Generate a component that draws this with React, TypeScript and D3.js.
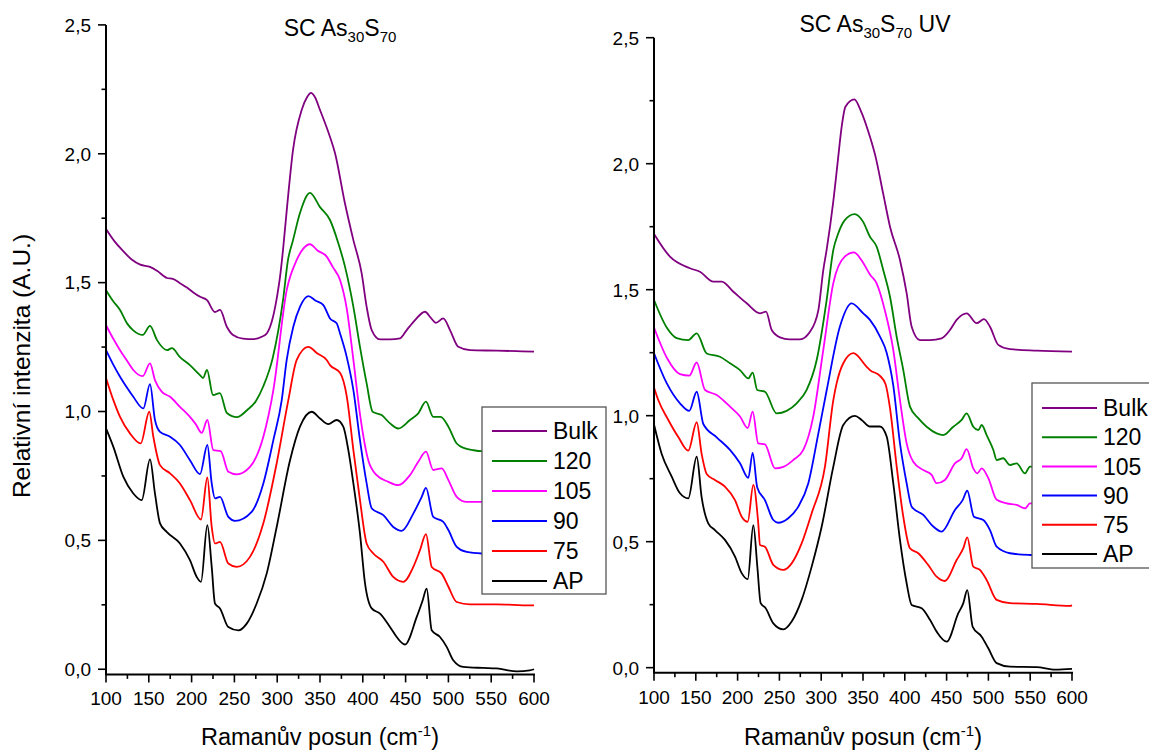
import React from 'react';
import * as d3 from 'd3';

type Pt = [number, number];

const SERIES_NAMES = ['Bulk', '120', '105', '90', '75', 'AP'];
const SERIES_COLORS = ['#800080', '#008000', '#ff00ff', '#0000ff', '#ff0000', '#000000'];
const X_TICKS = [100, 150, 200, 250, 300, 350, 400, 450, 500, 550, 600];
const Y_TICKS = [0, 0.5, 1.0, 1.5, 2.0, 2.5];

// ---------- Left panel: SC As30S70 ----------
const LEFT_BULK: Pt[] = [[100,1.708],[110,1.66],[118.7,1.627],[130,1.59],[140,1.57],[151.4,1.561],[160,1.545],[171.3,1.518],[178,1.515],[186.4,1.498],[195,1.48],[201.6,1.463],[210,1.445],[218,1.432],[227.3,1.386],[233.2,1.394],[241.3,1.328],[248.4,1.297],[260,1.283],[271.7,1.281],[282,1.29],[288,1.304],[295,1.366],[300,1.45],[303.3,1.522],[306.8,1.627],[311.5,1.793],[318.5,2.015],[328.6,2.17],[335,2.22],[339.5,2.236],[344,2.22],[350,2.17],[361.7,2.065],[367.5,2.003],[379,1.81],[389,1.665],[398.7,1.536],[404.5,1.406],[410.4,1.316],[420.1,1.28],[431.8,1.28],[443.5,1.284],[451.3,1.316],[461,1.355],[472.7,1.387],[479,1.365],[485.5,1.344],[494,1.361],[501.9,1.316],[511.6,1.251],[525.2,1.238],[556.4,1.236],[580,1.234],[600,1.232]];
const LEFT_120: Pt[] = [[100,1.471],[108,1.43],[116.4,1.394],[125,1.34],[131.5,1.316],[143,1.297],[151.4,1.332],[159.6,1.277],[171.3,1.238],[177,1.246],[186.4,1.211],[198,1.18],[209.8,1.141],[213.3,1.13],[218,1.161],[225,1.064],[233,1.071],[241.3,0.994],[253,0.978],[264.7,1.005],[275,1.04],[283.4,1.095],[295,1.211],[306.8,1.432],[312.6,1.588],[318.5,1.665],[326.6,1.77],[338.3,1.848],[350,1.793],[361.7,1.743],[371.4,1.653],[379.2,1.562],[389,1.406],[396.7,1.251],[404.5,1.109],[411.5,0.999],[422,0.986],[431.8,0.954],[441.5,0.934],[455.1,0.967],[464.8,0.993],[473.8,1.038],[482.3,0.979],[491,0.979],[500,0.941],[509.7,0.876],[519.4,0.857],[529.1,0.85],[538.9,0.846],[570,0.845],[600,0.84]];
const LEFT_105: Pt[] = [[100,1.335],[108,1.285],[116.4,1.238],[125,1.195],[131.9,1.161],[142.9,1.137],[151.4,1.187],[157.2,1.122],[165.1,1.077],[174.8,1.057],[186.4,1.018],[198.1,0.979],[205,0.95],[211.8,0.917],[218.4,0.967],[225.4,0.85],[234,0.846],[242.9,0.766],[252.7,0.756],[268.2,0.785],[283.8,0.902],[295.5,1.083],[311.1,1.471],[322.8,1.588],[330,1.63],[338.3,1.649],[347,1.625],[357.8,1.601],[365,1.56],[373.4,1.51],[381.2,1.4],[389,1.2],[396.7,0.99],[406.4,0.811],[416.2,0.753],[429.8,0.727],[441.5,0.714],[455.1,0.753],[464.8,0.805],[473.8,0.844],[482.3,0.773],[492.2,0.779],[500,0.734],[509.7,0.669],[521.4,0.649],[538.9,0.649],[570,0.647],[600,0.645]];
const LEFT_90: Pt[] = [[100,1.238],[108,1.185],[116.4,1.135],[125,1.09],[131.9,1.057],[143.6,1.012],[151.4,1.106],[157.2,0.967],[163.1,0.921],[174.8,0.902],[186.4,0.87],[198.1,0.811],[209.8,0.757],[218.4,0.87],[223.5,0.721],[227.3,0.663],[233.2,0.669],[242.9,0.591],[250.7,0.576],[270.2,0.611],[283.8,0.721],[295.5,0.889],[305.3,1.044],[311.1,1.2],[318.8,1.329],[326.6,1.406],[336.3,1.448],[345,1.43],[353.9,1.413],[361.7,1.361],[369.5,1.342],[373.4,1.303],[381.2,1.212],[389,1.083],[396.7,0.889],[404.5,0.721],[410.4,0.624],[424,0.598],[435.6,0.552],[445.4,0.537],[459,0.604],[468.8,0.669],[473.8,0.704],[482.3,0.591],[494,0.572],[500,0.54],[509.7,0.475],[521.4,0.455],[538.9,0.449],[570,0.447],[600,0.445]];
const LEFT_75: Pt[] = [[100,1.13],[108.6,1.044],[116.4,0.979],[128,0.915],[140.5,0.876],[150.6,0.999],[155.3,0.902],[163.1,0.792],[174.8,0.76],[186.4,0.721],[198.1,0.656],[211,0.581],[218.4,0.744],[223.5,0.552],[227.3,0.488],[233.2,0.494],[242.9,0.41],[252.7,0.397],[268.2,0.436],[283.8,0.566],[299.4,0.799],[313,1.044],[322.8,1.2],[336.3,1.251],[347,1.225],[357.8,1.2],[361.7,1.18],[373.4,1.15],[381.2,1.06],[389,0.85],[396.7,0.656],[404.5,0.488],[412.3,0.449],[424,0.417],[435.6,0.358],[447.3,0.339],[459,0.397],[466.8,0.462],[473.8,0.524],[480.5,0.397],[492.2,0.371],[500,0.32],[509.7,0.261],[525.2,0.252],[556,0.252],[595.3,0.248],[600,0.248]];
const LEFT_AP: Pt[] = [[100,0.935],[108.6,0.863],[120.2,0.747],[131.9,0.682],[141.7,0.656],[151.4,0.814],[157.2,0.682],[163.1,0.566],[170.9,0.533],[186.4,0.488],[198.1,0.423],[206,0.358],[211,0.339],[218.4,0.559],[223.5,0.397],[227.3,0.255],[233.2,0.236],[242.9,0.164],[254.6,0.151],[264.4,0.177],[276,0.255],[287.7,0.371],[299.4,0.552],[315,0.811],[326.6,0.941],[340.3,0.999],[350,0.973],[359.7,0.951],[369.5,0.967],[377.2,0.941],[383.1,0.85],[389,0.721],[396.7,0.527],[402.6,0.333],[410.4,0.236],[420.1,0.216],[431.8,0.164],[439.6,0.125],[449.3,0.096],[463,0.203],[470,0.268],[474.6,0.313],[480.5,0.151],[490.2,0.125],[498,0.087],[505.7,0.035],[517.4,0.009],[540,0.005],[556.4,0.003],[580,-0.008],[595,-0.004],[600,0.0]];

// ---------- Right panel: SC As30S70 UV ----------
const RIGHT_BULK: Pt[] = [[100,1.721],[119.1,1.631],[143,1.585],[155,1.571],[171,1.532],[181,1.532],[194.9,1.492],[210.9,1.446],[226.8,1.406],[234,1.413],[240.8,1.34],[250.7,1.311],[262,1.303],[274.6,1.303],[286.6,1.333],[296.6,1.419],[302.5,1.578],[306.5,1.658],[314.7,1.856],[320,2.015],[324.5,2.147],[329,2.226],[339.7,2.255],[347,2.213],[358.3,2.107],[365,2.028],[374.2,1.88],[382.3,1.75],[394.2,1.618],[402.2,1.486],[408.2,1.353],[418.1,1.3],[430.1,1.3],[444.1,1.307],[454,1.34],[462,1.38],[474,1.406],[485.9,1.367],[494.7,1.383],[501.9,1.353],[511.8,1.281],[525.8,1.264],[557.7,1.258],[600,1.254]];
const RIGHT_120: Pt[] = [[100,1.459],[115.2,1.35],[127.1,1.308],[141,1.3],[151.1,1.327],[163,1.247],[178.9,1.234],[190.9,1.208],[202.9,1.181],[212.8,1.148],[218,1.171],[223.5,1.102],[232.7,1.095],[246.7,1.009],[258.7,1.019],[270.6,1.049],[282.6,1.102],[294.6,1.221],[306.5,1.459],[314.5,1.658],[320,1.72],[328,1.775],[340,1.8],[350,1.77],[358.3,1.71],[366.3,1.671],[374.2,1.578],[382.3,1.472],[390.3,1.313],[398.2,1.181],[406.2,1.036],[416.1,0.99],[426.1,0.956],[438.1,0.93],[446,0.923],[458,0.956],[468,0.983],[474,1.009],[481.9,0.956],[487.9,0.943],[492,0.963],[497.9,0.923],[505.9,0.864],[509.9,0.824],[517.8,0.831],[525.8,0.804],[533.8,0.811],[543.8,0.771],[549.7,0.798],[575,0.79],[600,0.785]];
const RIGHT_105: Pt[] = [[100,1.35],[115.2,1.231],[131.1,1.165],[142.2,1.159],[151.1,1.211],[161,1.102],[175,1.082],[190.9,1.036],[202.9,0.997],[212.1,0.951],[218,1.016],[224.7,0.89],[232.7,0.886],[244.7,0.791],[254.7,0.797],[266.6,0.824],[278.6,0.864],[290.5,0.996],[302.5,1.261],[314.5,1.526],[328.4,1.632],[339.2,1.648],[350.3,1.606],[358.3,1.56],[366.3,1.525],[376.3,1.416],[386.2,1.261],[394.2,1.062],[402.2,0.89],[410.1,0.817],[422.1,0.784],[432.1,0.765],[438.1,0.732],[448,0.745],[460,0.811],[468,0.831],[474,0.867],[481.9,0.791],[486.7,0.771],[492,0.791],[499.9,0.752],[509.9,0.666],[521.9,0.652],[533.8,0.646],[543.8,0.632],[549.7,0.652],[575,0.645],[600,0.64]];
const RIGHT_90: Pt[] = [[100,1.248],[115.2,1.129],[131.1,1.049],[142.2,1.019],[151.1,1.095],[159,0.967],[175,0.914],[190.9,0.864],[202.9,0.811],[212.8,0.753],[218,0.852],[223.5,0.715],[232.7,0.665],[242.7,0.586],[248.7,0.575],[260.6,0.593],[272.6,0.639],[284.6,0.732],[296.6,0.93],[306.5,1.1],[322.4,1.354],[336.4,1.446],[350.3,1.406],[358.3,1.38],[370.3,1.314],[378.3,1.25],[386.2,1.12],[394.2,0.891],[402.2,0.732],[408.2,0.639],[422.1,0.606],[434.1,0.56],[444.1,0.54],[460,0.626],[469.2,0.665],[474.7,0.702],[482.7,0.599],[493.9,0.586],[501.9,0.546],[509.9,0.48],[525.8,0.454],[549.7,0.447],[600,0.443]];
const RIGHT_75: Pt[] = [[100,1.112],[105.1,1.062],[117.1,0.983],[129.1,0.915],[141,0.861],[151.1,0.974],[157,0.848],[163,0.769],[172.9,0.745],[184.9,0.718],[196.9,0.665],[204.9,0.599],[212.1,0.579],[218.8,0.725],[224.7,0.573],[226.8,0.487],[232.7,0.48],[242.7,0.408],[254.7,0.388],[264.7,0.414],[276.6,0.493],[288.6,0.613],[304.5,0.798],[314.5,1.062],[318.5,1.129],[326.4,1.208],[338.4,1.248],[354.4,1.194],[358.3,1.181],[370.3,1.158],[377,1.125],[382.3,1.03],[390.3,0.798],[398.2,0.599],[406.2,0.474],[416.1,0.454],[428.1,0.407],[438.1,0.361],[448,0.344],[462,0.427],[470,0.474],[474.7,0.517],[481.9,0.401],[489.9,0.388],[497.9,0.348],[509.9,0.269],[525.8,0.256],[557.7,0.253],[597.5,0.245],[600,0.247]];
const RIGHT_AP: Pt[] = [[100,0.965],[109.2,0.848],[121.2,0.758],[131.1,0.692],[141,0.672],[151.1,0.837],[157,0.676],[164.9,0.573],[172.9,0.546],[184.9,0.507],[196.9,0.441],[204.9,0.375],[212.1,0.351],[218.8,0.566],[223.6,0.401],[227.6,0.256],[233.6,0.236],[242.7,0.176],[254.7,0.152],[264.7,0.183],[276.6,0.269],[288.6,0.401],[300.6,0.56],[314.5,0.798],[326.4,0.963],[340.4,0.999],[348.4,0.983],[358.3,0.957],[370.3,0.957],[378.3,0.917],[386.2,0.732],[394.2,0.507],[402.2,0.335],[408.2,0.249],[420.2,0.236],[430.1,0.19],[438.1,0.143],[450.1,0.103],[464,0.216],[470,0.256],[474.7,0.308],[481.2,0.162],[491.9,0.123],[499.9,0.077],[509.9,0.018],[525.8,0.004],[557.7,0.002],[580,-0.008],[600,-0.005]];

const LEFT_SERIES = [LEFT_BULK, LEFT_120, LEFT_105, LEFT_90, LEFT_75, LEFT_AP];
const RIGHT_SERIES = [RIGHT_BULK, RIGHT_120, RIGHT_105, RIGHT_90, RIGHT_75, RIGHT_AP];

const FONT = '"Liberation Sans", Arial, sans-serif';
const fmt = (v: number) => d3.format('.1f')(v).replace('.', ',');

interface PanelProps {
  series: Pt[][];
  xr: [number, number];
  yr: [number, number];
  titleX: number;
  titleY: number;
  uv: boolean;
  legend: { x: number; y: number; w: number; h: number; first: number; step: number };
  yTitle: boolean;
}

function Panel({ series, xr, yr, titleX, titleY, uv, legend, yTitle }: PanelProps) {
  const x = d3.scaleLinear().domain([100, 600]).range(xr);
  const y = d3.scaleLinear().domain([-0.02, 2.5]).range(yr);
  const line = d3
    .line<Pt>()
    .x((d) => x(d[0]))
    .y((d) => y(d[1]))
    .curve(d3.curveMonotoneX);
  const xMinor = d3.range(125, 600, 50);
  const yMinor = d3.range(0.25, 2.5, 0.5);
  const axisY = y(-0.02);
  const axisX = x(100);
  return (
    <g>
      {series.map((s, i) => (
        <path key={i} d={line(s) || ''} fill="none" stroke={SERIES_COLORS[i]} strokeWidth={1.8} strokeLinejoin="round" />
      ))}
      {/* axes */}
      <line x1={axisX} x2={axisX} y1={y(2.5)} y2={axisY} stroke="#000" strokeWidth={2} />
      <line x1={axisX - 1} x2={x(600) + 1} y1={axisY} y2={axisY} stroke="#000" strokeWidth={2} />
      {X_TICKS.map((t) => (
        <g key={'xt' + t}>
          <line x1={x(t)} x2={x(t)} y1={axisY} y2={axisY + 8} stroke="#000" strokeWidth={1.6} />
          <text x={x(t)} y={axisY + 31} textAnchor="middle" fontSize={19} fontFamily={FONT}>{t}</text>
        </g>
      ))}
      {xMinor.map((t) => (
        <line key={'xm' + t} x1={x(t)} x2={x(t)} y1={axisY} y2={axisY + 4.5} stroke="#000" strokeWidth={1.6} />
      ))}
      {Y_TICKS.map((t) => (
        <g key={'yt' + t}>
          <line x1={axisX - 8} x2={axisX} y1={y(t)} y2={y(t)} stroke="#000" strokeWidth={1.6} />
          <text x={axisX - 15} y={y(t)} dy="0.36em" textAnchor="end" fontSize={19} fontFamily={FONT}>{fmt(t)}</text>
        </g>
      ))}
      {yMinor.map((t) => (
        <line key={'ym' + t} x1={axisX - 4.5} x2={axisX} y1={y(t)} y2={y(t)} stroke="#000" strokeWidth={1.6} />
      ))}
      {/* title */}
      <text x={titleX} y={titleY} textAnchor="middle" fontSize={23} fontFamily={FONT}>
        SC As<tspan fontSize={15} dy={6}>30</tspan>
        <tspan dy={-6}>S</tspan>
        <tspan fontSize={15} dy={6}>70</tspan>
        {uv ? <tspan dy={-6}> UV</tspan> : null}
      </text>
      {/* x title */}
      <text x={(xr[0] + xr[1]) / 2} y={745} textAnchor="middle" fontSize={23.5} fontFamily={FONT}>
        Ramanův posun (cm<tspan fontSize={15} dy={-9}>-1</tspan>
        <tspan dy={9}>)</tspan>
      </text>
      {yTitle ? (
        <text transform={`translate(30,${366}) rotate(-90)`} textAnchor="middle" fontSize={24.5} fontFamily={FONT}>
          Relativní intenzita (A.U.)
        </text>
      ) : null}
      {/* legend */}
      <rect x={legend.x} y={legend.y} width={legend.w} height={legend.h} fill="#fff" stroke="#555" strokeWidth={1.3} />
      {SERIES_NAMES.map((n, i) => {
        const ly = legend.first + i * legend.step;
        return (
          <g key={n}>
            <line x1={legend.x + 10} x2={legend.x + 65} y1={ly} y2={ly} stroke={SERIES_COLORS[i]} strokeWidth={2} />
            <text x={legend.x + 71} y={ly} dy="0.36em" fontSize={23} fontFamily={FONT}>{n}</text>
          </g>
        );
      })}
    </g>
  );
}

export default function App() {
  return (
    <svg
      width={1149}
      height={753}
      style={{ position: 'absolute', left: 0, top: 0, background: '#fff' }}
    >
      <rect x={0} y={0} width={1149} height={753} fill="#fff" />
      <Panel
        series={LEFT_SERIES}
        xr={[106, 534]}
        yr={[674.4, 24.9]}
        titleX={340}
        titleY={36}
        uv={false}
        legend={{ x: 482, y: 407, w: 124, h: 187, first: 431, step: 30 }}
        yTitle={true}
      />
      <Panel
        series={RIGHT_SERIES}
        xr={[654, 1072]}
        yr={[672.7, 37.7]}
        titleX={875}
        titleY={32}
        uv={true}
        legend={{ x: 1032, y: 383, w: 118, h: 185, first: 408, step: 29.2 }}
        yTitle={false}
      />
    </svg>
  );
}
